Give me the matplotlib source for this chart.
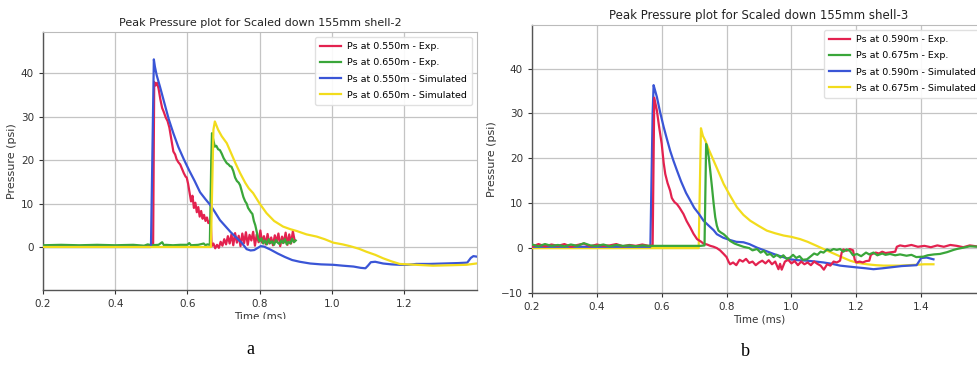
import matplotlib
matplotlib.use("Agg")
import matplotlib.pyplot as plt
from matplotlib.patches import Rectangle

plt.rcParams['font.family'] = ['DejaVu Sans']

# ---------------- Panel a: shell-2 ----------------
title_a = "Peak Pressure plot for Scaled down 155mm shell-2"
labels_a = ["Ps at 0.550m - Exp.", "Ps at 0.650m - Exp.",
            "Ps at 0.550m - Simulated", "Ps at 0.650m - Simulated"]

red2_t = [0.20, 0.30, 0.40, 0.50, 0.505, 0.508, 0.512, 0.516, 0.520, 0.525,
          0.530, 0.534, 0.540, 0.545, 0.550, 0.555, 0.561, 0.566, 0.570, 0.575,
          0.580, 0.585, 0.590, 0.595, 0.598, 0.602, 0.606, 0.610, 0.614, 0.618,
          0.622, 0.626, 0.630, 0.634, 0.638, 0.642, 0.646, 0.650, 0.654, 0.658,
          0.662, 0.665,
          0.667, 0.672, 0.677, 0.682, 0.687, 0.692, 0.697, 0.702, 0.707, 0.712,
          0.717, 0.722, 0.727, 0.732, 0.737, 0.742, 0.747, 0.752, 0.757, 0.762,
          0.767, 0.772, 0.777, 0.782, 0.787, 0.792, 0.797, 0.802, 0.807, 0.812,
          0.817, 0.822, 0.827, 0.832, 0.837, 0.842, 0.847, 0.852, 0.857, 0.862,
          0.867, 0.872, 0.877, 0.882, 0.887, 0.892, 0.897]
red2_p = [0.2, 0.2, 0.2, 0.2, 0.3, 38.0, 37.2, 37.8, 36.5, 34.0,
          32.0, 31.2, 29.8, 29.0, 27.5, 25.0, 22.0, 21.3, 20.2, 19.5,
          19.0, 18.0, 17.0, 16.2, 16.0, 14.5, 12.5, 10.5, 11.8, 9.0,
          10.2, 8.0, 9.2, 7.0, 8.3, 6.5, 7.4, 6.0, 6.8, 5.5,
          5.9, 5.2,
          0.2, 0.8, -0.3, 0.5, -0.2, 1.2, 0.3, 1.8, 0.6, 2.5,
          0.8, 2.9, 0.4, 3.2, 1.0, 2.6, 0.2, 3.1, 0.9, 3.4,
          0.5, 2.8, 1.5, 3.5, 0.3, 2.9, 1.1, 3.8, 1.0, 2.5,
          0.6, 3.0, 0.8, 2.2, 0.4, 2.7, 1.2, 3.1, 0.2, 2.4,
          1.0, 3.3, 0.5, 2.9, 0.8, 3.6, 1.5]

green2_t = [0.20, 0.25, 0.30, 0.35, 0.40, 0.45, 0.48, 0.49, 0.50, 0.52,
            0.53, 0.535, 0.54, 0.56, 0.58, 0.60, 0.605, 0.61, 0.63, 0.645,
            0.65, 0.655, 0.662, 0.666, 0.668, 0.672, 0.676, 0.680, 0.685, 0.690,
            0.695, 0.700, 0.705, 0.709, 0.714, 0.718, 0.722, 0.727, 0.732, 0.737,
            0.742, 0.746, 0.750, 0.755, 0.760, 0.764, 0.768, 0.772, 0.776, 0.780,
            0.784, 0.788, 0.792, 0.796, 0.800,
            0.805, 0.810, 0.815, 0.820, 0.825, 0.830, 0.835, 0.840, 0.845, 0.850,
            0.855, 0.860, 0.865, 0.870, 0.875, 0.880, 0.885, 0.890, 0.895, 0.900]
green2_p = [0.4, 0.5, 0.4, 0.5, 0.4, 0.5, 0.3, 0.6, 0.4, 0.5,
            1.1, 0.4, 0.5, 0.4, 0.5, 0.5, 0.9, 0.4, 0.5, 0.8,
            0.4, 0.6, 0.5, 20.0, 26.2, 24.5, 23.1, 23.3, 22.5, 22.3,
            21.5, 20.5, 19.8, 19.3, 19.0, 18.6, 18.5, 17.5, 16.0, 15.2,
            14.8, 14.2, 13.0, 11.5, 10.5, 10.0, 9.0, 8.5, 8.0, 7.6,
            6.0, 5.0, 3.5, 2.0, 1.3,
            2.0, 0.8, 1.5, 0.6, 1.8, 0.9, 1.3, 0.5, 1.6, 1.0,
            0.7, 1.5, 0.9, 1.8, 0.6, 1.2, 0.8, 1.9, 1.1, 1.5]

blue2_t = [0.20, 0.30, 0.40, 0.499, 0.507, 0.510, 0.515, 0.524, 0.535, 0.548,
           0.561, 0.575, 0.590, 0.605, 0.620, 0.635, 0.650, 0.663, 0.675, 0.690,
           0.705, 0.720, 0.735, 0.750, 0.764, 0.775, 0.785, 0.795, 0.803, 0.812,
           0.830, 0.850, 0.870, 0.890, 0.911, 0.940, 0.970, 1.004, 1.030, 1.060,
           1.080, 1.093, 1.100, 1.108, 1.120, 1.142, 1.165, 1.188, 1.210, 1.234,
           1.270, 1.310, 1.350, 1.375, 1.385, 1.392, 1.400]
blue2_p = [0.0, 0.0, 0.0, 0.0, 43.2, 41.5, 39.5, 36.9, 33.5, 29.5,
           26.2, 23.0, 20.2, 17.6, 15.2, 12.6, 11.0, 9.7, 8.2, 6.2,
           4.8, 3.4, 2.2, 1.0, -0.5, -0.8, -0.7, -0.2, 0.2, 0.1,
           -0.6, -1.5, -2.3, -3.0, -3.4, -3.8, -4.0, -4.1, -4.3, -4.5,
           -4.8, -4.9, -4.3, -3.5, -3.4, -3.8, -4.0, -4.1, -4.1, -3.9,
           -3.9, -3.8, -3.7, -3.6, -2.5, -2.1, -2.2]

yel2_t = [0.20, 0.30, 0.40, 0.50, 0.60, 0.665, 0.672, 0.676, 0.685, 0.695,
          0.709, 0.720, 0.733, 0.746, 0.760, 0.770, 0.782, 0.800, 0.819, 0.840,
          0.865, 0.885, 0.902, 0.930, 0.958, 0.980, 1.004, 1.030, 1.050, 1.075,
          1.096, 1.120, 1.142, 1.165, 1.188, 1.210, 1.234, 1.280, 1.330, 1.372,
          1.400]
yel2_p = [0.0, 0.0, 0.0, 0.0, 0.0, 0.0, 27.0, 28.9, 27.0, 25.5,
          23.9, 21.8, 19.3, 17.0, 14.8, 13.5, 12.4, 10.0, 7.8, 6.0,
          4.7, 4.1, 3.7, 2.9, 2.4, 1.8, 1.0, 0.6, 0.2, -0.4,
          -1.1, -1.8, -2.6, -3.3, -3.9, -4.0, -4.1, -4.3, -4.2, -4.1,
          -3.8]

# ---------------- Panel b: shell-3 ----------------
title_b = "Peak Pressure plot for Scaled down 155mm shell-3"
labels_b = ["Ps at 0.590m - Exp.", "Ps at 0.675m - Exp.",
            "Ps at 0.590m - Simulated", "Ps at 0.675m - Simulated"]

red3_t = [0.20, 0.22, 0.24, 0.26, 0.28, 0.30, 0.32, 0.34, 0.36, 0.38,
          0.40, 0.42, 0.44, 0.46, 0.48, 0.50, 0.52, 0.54, 0.56, 0.572,
          0.577, 0.585, 0.592, 0.600, 0.606, 0.611, 0.618, 0.626, 0.631, 0.635,
          0.640, 0.647, 0.655, 0.667, 0.677, 0.688, 0.698, 0.709, 0.720, 0.729,
          0.740, 0.750, 0.760, 0.770, 0.780, 0.791, 0.800, 0.806, 0.811, 0.820,
          0.830, 0.840, 0.850, 0.860, 0.870, 0.880, 0.890, 0.900, 0.910, 0.920,
          0.930, 0.940, 0.950, 0.960, 0.965, 0.970, 0.980, 0.990, 1.000, 1.010,
          1.020, 1.030, 1.040, 1.050, 1.060, 1.070, 1.080, 1.090, 1.100, 1.110,
          1.120, 1.130, 1.140, 1.150, 1.155, 1.160, 1.170, 1.180, 1.190, 1.195,
          1.200, 1.210, 1.220, 1.230, 1.240, 1.245, 1.250, 1.260, 1.270, 1.280,
          1.290, 1.300, 1.310, 1.320, 1.325, 1.335, 1.350, 1.370, 1.390, 1.410,
          1.430, 1.450, 1.470, 1.490, 1.510, 1.530, 1.550, 1.580]
red3_p = [0.3, 0.9, 0.4, 0.8, 0.5, 0.9, 0.3, 0.7, 1.0, 0.4,
          0.8, 0.5, 0.6, 0.9, 0.4, 0.7, 0.5, 0.8, 0.5, 0.6,
          33.5, 30.7, 27.0, 23.2, 19.0, 16.5, 14.5, 12.8, 11.2, 10.7,
          10.2, 9.8, 9.0, 7.6, 6.0, 4.6, 3.2, 2.0, 1.5, 1.0,
          0.8, 0.5, 0.3, 0.0, -0.5, -1.3, -2.0, -3.0, -3.6, -3.2,
          -3.8, -2.6, -3.0, -2.4, -3.3, -3.0, -3.8, -3.2, -2.8, -3.4,
          -2.7, -3.6, -3.0, -4.7, -3.5, -4.8, -3.0, -2.6, -3.4, -2.9,
          -3.8, -3.0, -3.6, -3.2, -3.8, -3.0, -3.5, -3.9, -4.8, -3.6,
          -3.9, -3.0, -3.2, -2.8, -1.0, -0.3, -0.6, -0.2, -0.5, -2.5,
          -3.2, -3.0, -3.2, -2.9, -2.8, -1.5, -1.3, -1.0, -1.2, -0.8,
          -1.1, -1.0, -0.9, -0.8, 0.3, 0.6, 0.4, 0.7, 0.3, 0.5,
          0.2, 0.6, 0.3, 0.7, 0.5, 0.2, 0.6, 0.3]

green3_t = [0.20, 0.22, 0.24, 0.26, 0.28, 0.30, 0.32, 0.34, 0.36, 0.38,
            0.40, 0.42, 0.44, 0.46, 0.48, 0.50, 0.52, 0.54, 0.56, 0.58,
            0.60, 0.62, 0.64, 0.66, 0.68, 0.70, 0.72, 0.732, 0.737, 0.741,
            0.745, 0.750, 0.755, 0.760, 0.765, 0.770, 0.775, 0.782, 0.791, 0.800,
            0.811, 0.825, 0.840, 0.852, 0.870, 0.880, 0.894, 0.905, 0.915, 0.925,
            0.935, 0.945, 0.955, 0.966, 0.975, 0.985, 0.996, 1.005, 1.015, 1.025,
            1.035, 1.048, 1.060, 1.070, 1.080, 1.090, 1.099, 1.110, 1.120, 1.130,
            1.140, 1.150, 1.160, 1.170, 1.180, 1.190, 1.202, 1.215, 1.230, 1.240,
            1.253, 1.265, 1.280, 1.290, 1.304, 1.320, 1.335, 1.355, 1.370, 1.385,
            1.407, 1.420, 1.440, 1.458, 1.480, 1.500, 1.510, 1.530, 1.550, 1.580]
green3_p = [0.8, 0.4, 0.9, 0.5, 0.7, 0.4, 0.8, 0.5, 1.1, 0.6,
            0.5, 0.8, 0.4, 0.7, 0.5, 0.6, 0.4, 0.6, 0.5, 0.5,
            0.5, 0.5, 0.5, 0.5, 0.5, 0.5, 0.5, 0.6, 23.2, 22.0,
            20.3, 17.0, 13.6, 10.0, 6.9, 5.0, 3.9, 3.5, 3.1, 2.5,
            1.6, 1.0, 0.6, 0.3, 0.0, -0.5, -0.2, -1.0, -0.6, -1.5,
            -1.3, -2.0, -1.5, -2.1, -1.6, -2.4, -2.1, -1.5, -2.2, -1.8,
            -2.6, -2.5, -1.8, -1.2, -1.5, -0.8, -1.0, -0.3, -0.6, -0.2,
            -0.4, -0.2, -0.8, -0.3, -0.6, -1.6, -1.3, -1.8, -1.0, -1.4,
            -1.0, -1.6, -1.2, -1.5, -1.3, -1.6, -1.4, -1.7, -1.5, -2.0,
            -1.9, -1.6, -1.4, -1.3, -0.9, -0.4, -0.2, 0.1, 0.4, 0.3]

blue3_t = [0.20, 0.40, 0.565, 0.572, 0.575, 0.580, 0.585, 0.595, 0.606, 0.616,
           0.626, 0.636, 0.647, 0.660, 0.675, 0.688, 0.700, 0.715, 0.729, 0.745,
           0.760, 0.770, 0.790, 0.811, 0.830, 0.852, 0.870, 0.894, 0.920, 0.945,
           0.970, 0.996, 1.020, 1.048, 1.075, 1.099, 1.125, 1.150, 1.175, 1.202,
           1.230, 1.253, 1.280, 1.304, 1.340, 1.386, 1.395, 1.400, 1.417, 1.438]
blue3_p = [0.3, 0.3, 0.3, 30.0, 36.3, 35.0, 33.7, 30.3, 27.0, 24.3,
           21.7, 19.5, 17.3, 14.8, 12.3, 10.6, 9.0, 7.6, 6.1, 5.0,
           4.0, 3.1, 2.3, 1.8, 1.4, 1.3, 0.9, 0.1, -0.6, -1.3,
           -1.9, -2.5, -2.7, -2.8, -3.0, -3.2, -3.5, -3.9, -4.1, -4.3,
           -4.5, -4.7, -4.5, -4.3, -4.0, -3.8, -2.8, -2.2, -2.1, -2.5]

yel3_t = [0.20, 0.40, 0.60, 0.714, 0.721, 0.727, 0.734, 0.745, 0.760, 0.775,
          0.791, 0.810, 0.832, 0.852, 0.873, 0.900, 0.924, 0.950, 0.976, 1.000,
          1.027, 1.050, 1.078, 1.105, 1.130, 1.155, 1.181, 1.205, 1.233, 1.260,
          1.284, 1.310, 1.335, 1.360, 1.386, 1.410, 1.438]
yel3_p = [0.0, 0.0, 0.0, 0.0, 26.7, 25.0, 24.0, 22.0, 19.5, 17.0,
          14.3, 11.8, 9.1, 7.4, 6.1, 4.9, 3.9, 3.3, 2.8, 2.5,
          2.0, 1.4, 0.5, -0.4, -1.2, -2.0, -2.8, -3.3, -3.6, -3.8,
          -3.9, -3.9, -3.9, -3.8, -3.7, -3.6, -3.6]

colors = ["#e3224f", "#3aa63a", "#3a55d6", "#f2dc1c"]

fig = plt.figure(figsize=(9.78, 3.65), dpi=100)
W, H = 978.0, 365.0


def style(ax, xlim, ylim, yticks, xticks):
    ax.set_xlim(*xlim)
    ax.set_ylim(*ylim)
    ax.set_yticks(yticks)
    ax.set_xticks(xticks)
    ax.grid(True, color="#c4c4c4", lw=0.9)
    ax.set_axisbelow(True)
    for s in ["top", "right"]:
        ax.spines[s].set_color("#bbbbbb")
    for s in ["left", "bottom"]:
        ax.spines[s].set_color("#555555")
        ax.spines[s].set_linewidth(1.0)
    ax.tick_params(labelsize=7.5, colors="#333333", length=3, width=0.8)
    ax.set_xlabel("Time (ms)", fontsize=7.5, color="#333333", labelpad=2)
    ax.set_ylabel("Pressure (psi)", fontsize=8, color="#333333", labelpad=3)


leg_kw = dict(loc="upper right", fontsize=6.8, frameon=True, framealpha=0.9,
              edgecolor="#dddddd", handlelength=2.2, borderpad=0.6,
              labelspacing=0.75, handletextpad=0.6)
LW = 1.6

# panel a
axa = fig.add_axes([43 / W, 1 - 290 / H, (477 - 43) / W, (290 - 32) / H])
style(axa, (0.2, 1.402), (-9.9, 49.5), [0, 10, 20, 30, 40],
      [0.2, 0.4, 0.6, 0.8, 1.0, 1.2])
axa.set_xticklabels([f"{v:.1f}" for v in [0.2, 0.4, 0.6, 0.8, 1.0, 1.2]])
axa.plot(red2_t, red2_p, color=colors[0], lw=LW, label=labels_a[0], zorder=3)
axa.plot(green2_t, green2_p, color=colors[1], lw=LW, label=labels_a[1], zorder=4)
axa.plot(blue2_t, blue2_p, color=colors[2], lw=LW, label=labels_a[2], zorder=5)
axa.plot(yel2_t, yel2_p, color=colors[3], lw=LW, label=labels_a[3], zorder=6)
axa.set_title(title_a, fontsize=8, color="#222222", pad=4)
axa.legend(**leg_kw)

# panel b
axb = fig.add_axes([532 / W, 1 - 293 / H, (986 - 532) / W, (293 - 25) / H])
style(axb, (0.2, 1.6), (-10, 49.7), [-10, 0, 10, 20, 30, 40],
      [0.2, 0.4, 0.6, 0.8, 1.0, 1.2, 1.4])
axb.set_xticklabels([f"{v:.1f}" for v in [0.2, 0.4, 0.6, 0.8, 1.0, 1.2, 1.4]])
axb.set_yticklabels(["\u221210", "0", "10", "20", "30", "40"])
axb.plot(red3_t, red3_p, color=colors[0], lw=LW, label=labels_b[0], zorder=5)
axb.plot(green3_t, green3_p, color=colors[1], lw=LW, label=labels_b[1], zorder=6)
axb.plot(blue3_t, blue3_p, color=colors[2], lw=LW, label=labels_b[2], zorder=4)
axb.plot(yel3_t, yel3_p, color=colors[3], lw=LW, label=labels_b[3], zorder=3)
axb.set_title(title_b, fontsize=8.5, color="#222222", pad=4)
axb.legend(**leg_kw)

# white strip cropping panel a's x-label (as in the source screenshot)
fig.patches.append(Rectangle((0, 0), 490 / W, 1 - 319 / H,
                             transform=fig.transFigure, facecolor="white",
                             edgecolor="none", zorder=5))
fig.text(250 / W, 1 - 350 / H, "a", fontsize=13, family="Liberation Serif",
         ha="center", va="center", zorder=10)
fig.text(745 / W, 1 - 352 / H, "b", fontsize=13, family="Liberation Serif",
         ha="center", va="center", zorder=10)

fig.savefig("out.png", dpi=100)
